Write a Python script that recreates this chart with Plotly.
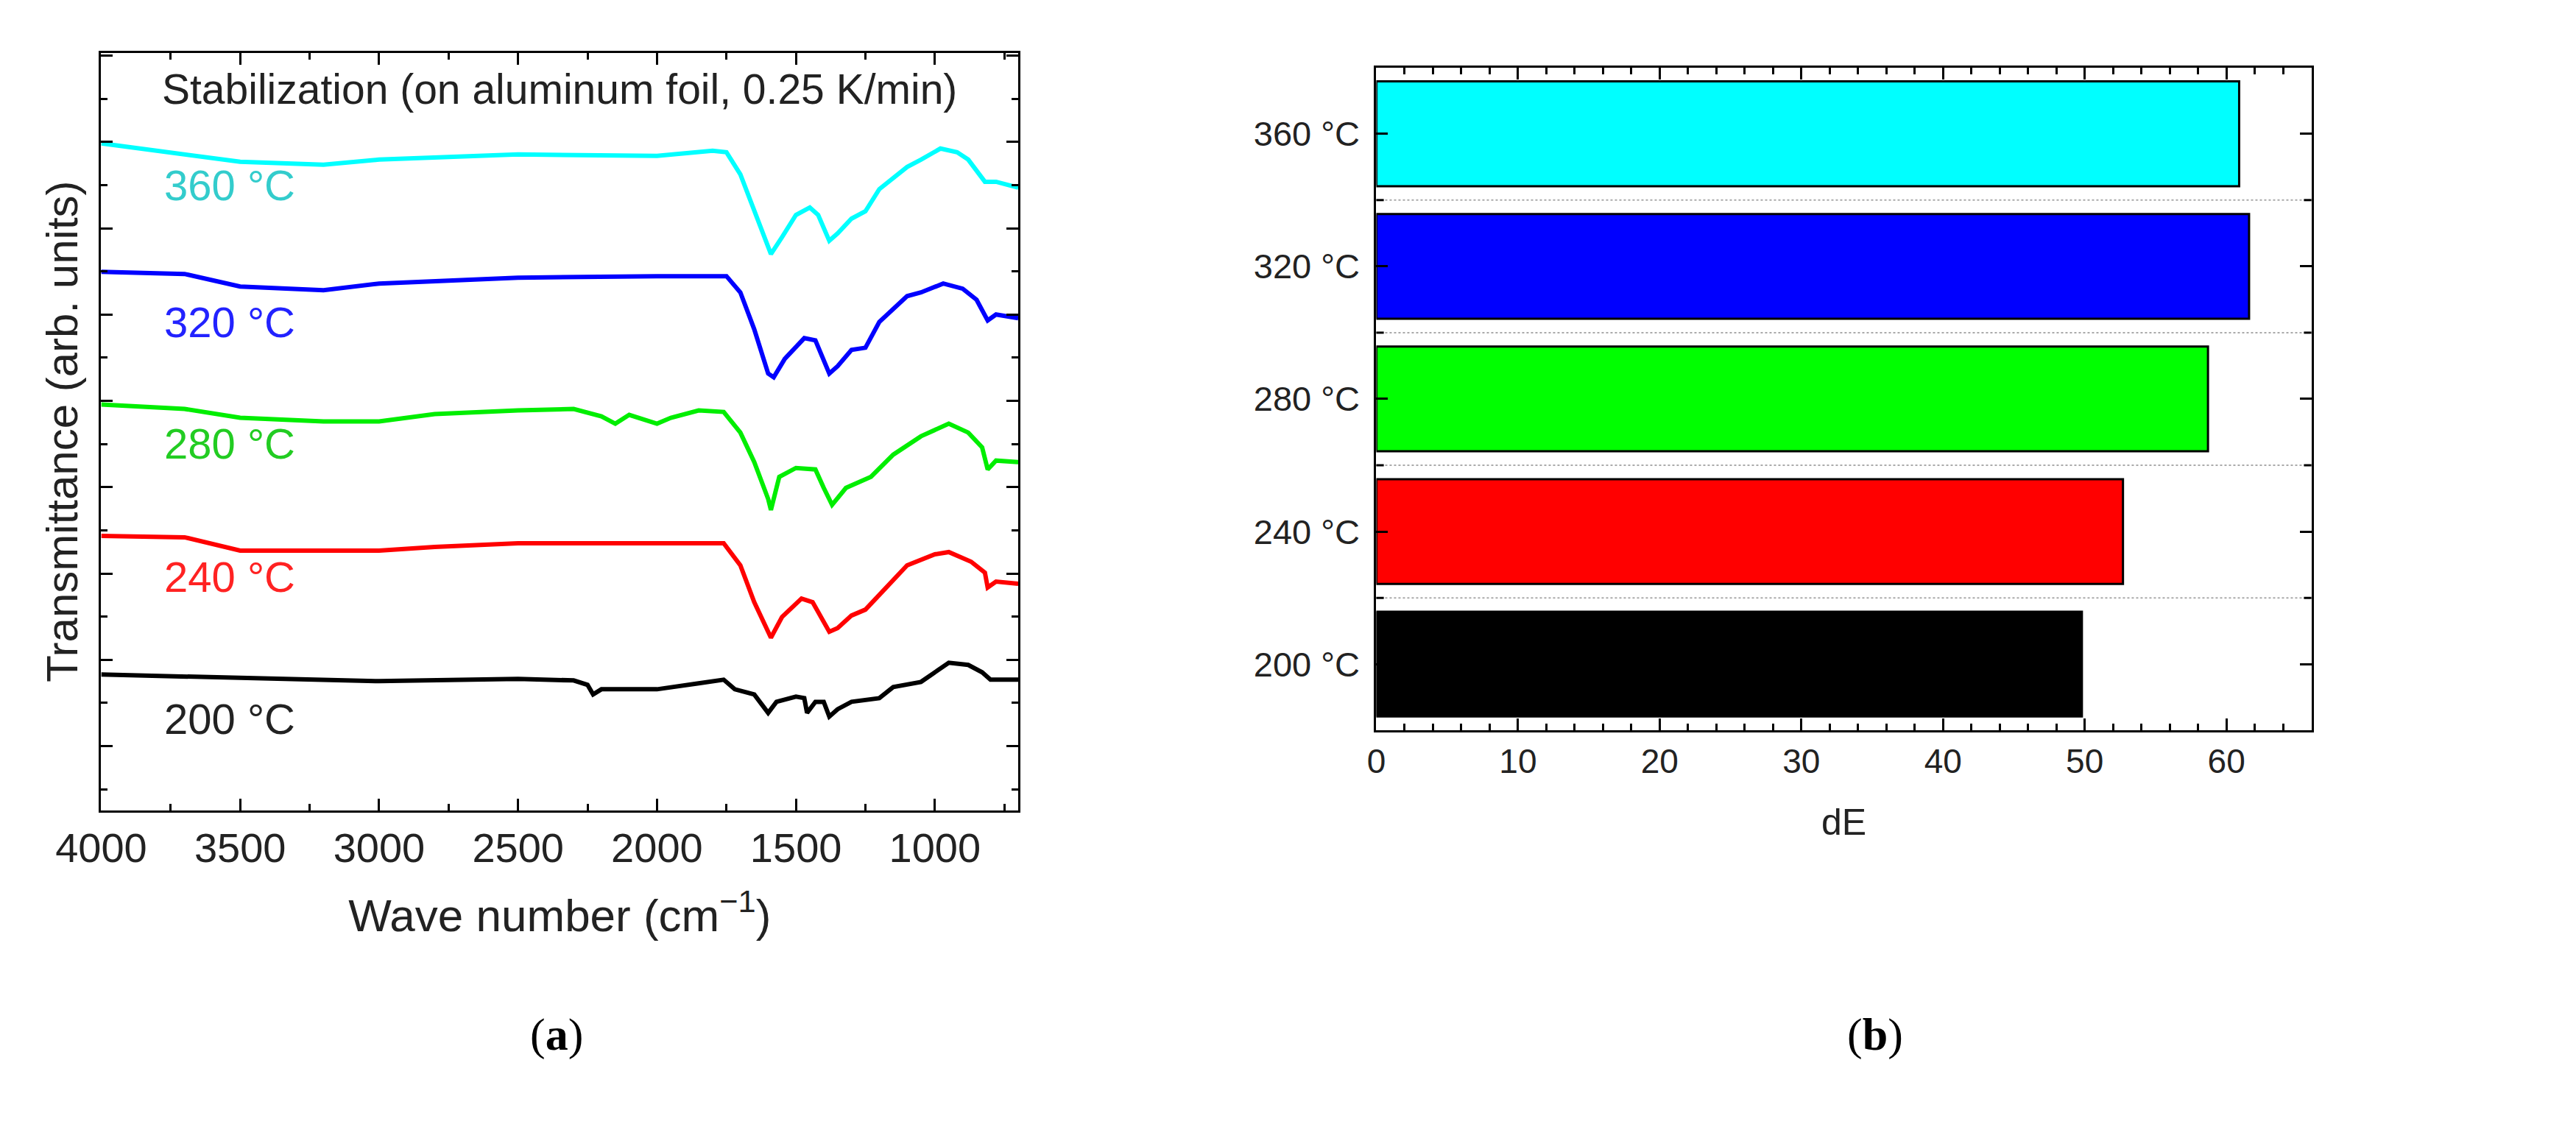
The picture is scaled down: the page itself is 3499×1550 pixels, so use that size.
import plotly.graph_objects as go

# ---- panel (a) data: wavenumber (cm^-1) and transmittance in arbitrary offset units ----
wn_360 = [4000,3500,3200,3000,2500,2000,1800,1750,1700,1650,1590,1550,1500,1450,1420,1380,1350,1300,1250,1200,1100,1050,980,920,880,820,780,700]
px_360 = [188,213,217,210,203,205,198,200,230,280,338,315,285,275,285,320,310,290,280,250,220,210,195,200,210,240,240,248]
wn_320 = [4000,3700,3500,3200,3000,2500,2000,1750,1700,1650,1600,1580,1540,1470,1430,1380,1350,1300,1250,1200,1100,1050,970,900,850,810,780,700]
px_320 = [362,365,382,387,378,370,368,368,390,440,500,505,480,452,455,500,490,468,465,430,395,390,378,385,400,428,420,425]
wn_280 = [4000,3700,3500,3200,3000,2800,2500,2300,2200,2150,2100,2000,1950,1850,1760,1700,1650,1600,1590,1560,1500,1430,1400,1370,1320,1280,1230,1150,1050,950,880,830,810,780,700]
px_280 = [542,548,560,565,565,555,550,548,558,568,556,568,560,550,552,580,620,670,685,640,628,630,655,678,655,648,640,610,585,568,580,600,630,618,620]
wn_240 = [4000,3700,3500,3000,2800,2500,2000,1760,1700,1650,1590,1550,1480,1440,1380,1350,1300,1250,1200,1100,1000,950,870,820,810,780,700]
px_240 = [720,722,740,740,735,730,730,730,760,810,858,830,805,810,850,845,828,820,800,760,745,742,755,770,790,782,785]
wn_200 = [4000,3500,3000,2500,2300,2250,2230,2200,2000,1850,1760,1720,1650,1600,1570,1500,1470,1460,1430,1400,1380,1350,1300,1200,1150,1050,1000,950,880,830,800,700]
px_200 = [908,912,917,914,916,922,935,928,928,920,915,928,935,960,945,938,940,960,945,945,965,955,945,940,925,918,905,892,895,905,915,915]

spec_names = ["360 °C", "320 °C", "280 °C", "240 °C", "200 °C"]
spec_colors = ["#00ffff", "#0000ff", "#00ee00", "#ff0000", "#000000"]
label_colors = ["#33cccc", "#2222ff", "#22cc22", "#ff2222", "#222222"]
label_px = [245, 430, 595, 775, 968]

# ---- panel (b) data ----
temps = ["200 °C", "240 °C", "280 °C", "320 °C", "360 °C"]
dE = [49.8, 52.7, 58.7, 61.6, 60.9]
bar_colors = ["#000000", "#ff0000", "#00ff00", "#0000ff", "#00ffff"]

def to_y(px):
    return [(1005 - p) / 117 for p in px]

fig = go.Figure()
series = [(wn_360, px_360), (wn_320, px_320), (wn_280, px_280), (wn_240, px_240), (wn_200, px_200)]
for (wn, px), c in zip(series, spec_colors):
    fig.add_trace(go.Scatter(x=wn, y=to_y(px), mode="lines", line=dict(color=c, width=6, shape="linear"),
                             xaxis="x", yaxis="y", showlegend=False))

fig.add_trace(go.Bar(x=dE, y=temps, orientation="h", width=0.79,
                     marker=dict(color=bar_colors, line=dict(color="black", width=3)),
                     xaxis="x2", yaxis="y2", showlegend=False))

font = "Liberation Sans, Arial, sans-serif"
ax_common = dict(showline=True, linecolor="black", linewidth=3, mirror="ticks", ticks="inside",
                 ticklen=16, tickwidth=3, tickcolor="black", showgrid=False, zeroline=False,
                 automargin=False)

fig.update_layout(
    width=3499, height=1550, paper_bgcolor="white", plot_bgcolor="white",
    margin=dict(l=0, r=0, t=0, b=0),
    font=dict(family=font, color="#222"),
    xaxis=dict(domain=[0.037, 0.393], range=[4000, 700], dtick=500, tick0=0,
               minor=dict(dtick=250, ticks="inside", ticklen=9, tickwidth=3, tickcolor="black"),
               tickfont=dict(size=56, color="#222"),
               title=dict(text="Wave number (cm<sup>−1</sup>)", font=dict(size=62, color="#222"), standoff=40),
               anchor="y", **ax_common),
    yaxis=dict(domain=[0.295, 0.959], range=[-0.744, 8.034], dtick=1, tick0=0, showticklabels=False,
               minor=dict(dtick=0.5, ticks="inside", ticklen=9, tickwidth=3, tickcolor="black"),
               title=dict(text="Transmittance (arb. units)", font=dict(size=60, color="#222"), standoff=10),
               anchor="x", **ax_common),
    xaxis2=dict(domain=[0.532, 0.895], range=[0, 66], dtick=10,
                minor=dict(dtick=2, ticks="inside", ticklen=9, tickwidth=3, tickcolor="black"),
                tickfont=dict(size=46, color="#222"),
                title=dict(text="dE", font=dict(size=50, color="#222"), standoff=40),
                anchor="y2", **ax_common),
    yaxis2=dict(domain=[0.365, 0.946], range=[-0.5, 4.5], type="category",
                tickfont=dict(size=47, color="#222"), ticklabelstandoff=10,
                anchor="x2", **ax_common),
    bargap=0.21,
)

for k in range(4):
    fig.add_shape(type="line", xref="x2 domain", yref="y2", x0=0, x1=1, y0=k + 0.5, y1=k + 0.5,
                  line=dict(color="#aaaaaa", width=2, dash="dot"), layer="below")
    fig.add_shape(type="line", xref="x2 domain", yref="y2", x0=0, x1=0.008, y0=k + 0.5, y1=k + 0.5,
                  line=dict(color="black", width=3))
    fig.add_shape(type="line", xref="x2 domain", yref="y2", x0=0.992, x1=1, y0=k + 0.5, y1=k + 0.5,
                  line=dict(color="black", width=3))

for name, col, lp in zip(spec_names, label_colors, label_px):
    fig.add_annotation(x=3780, y=(1005 - lp) / 117, xref="x", yref="y", text=name, showarrow=False,
                       xanchor="left", yanchor="middle", font=dict(size=58, color=col))

fig.add_annotation(x=0.5, y=0.985, xref="x domain", yref="y domain", yanchor="top",
                   text="Stabilization (on aluminum foil, 0.25 K/min)", showarrow=False,
                   font=dict(size=57, color="#222"))

fig.add_annotation(x=0.203, y=0.075, xref="paper", yref="paper", text="(<b>a</b>)", showarrow=False,
                   font=dict(size=62, family="Liberation Serif, serif", color="black"))
fig.add_annotation(x=0.737, y=0.075, xref="paper", yref="paper", text="(<b>b</b>)", showarrow=False,
                   font=dict(size=62, family="Liberation Serif, serif", color="black"))

fig.write_html("out.html")
